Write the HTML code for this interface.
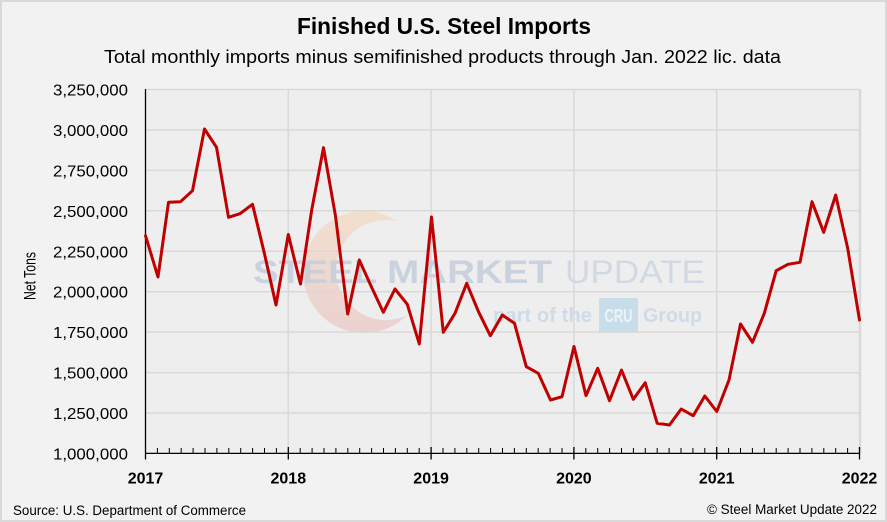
<!DOCTYPE html>
<html><head><meta charset="utf-8"><style>
html,body{margin:0;padding:0;background:#f2f2f2;}
svg{display:block;}
text{font-family:"Liberation Sans",Arial,sans-serif;}
</style></head><body>
<svg width="887" height="522" viewBox="0 0 887 522" xmlns="http://www.w3.org/2000/svg">
<defs>
<linearGradient id="cg" x1="0" y1="0" x2="0" y2="1">
<stop offset="0" stop-color="#f3dcc4"/>
<stop offset="1" stop-color="#eac7c7"/>
</linearGradient>
<mask id="cm">
<rect x="0" y="0" width="887" height="522" fill="black"/>
<circle cx="364" cy="272" r="61" fill="white"/>
<circle cx="386" cy="270" r="50" fill="black"/>
</mask>
</defs>
<rect x="0" y="0" width="887" height="522" fill="#f2f2f2"/>
<rect x="1" y="1" width="885" height="520" fill="none" stroke="#d9d9d9" stroke-width="2"/>

<!-- titles -->
<text x="297" y="34" font-size="23" font-weight="bold" fill="#000" textLength="294" lengthAdjust="spacingAndGlyphs">Finished U.S. Steel Imports</text>
<text x="104" y="63" font-size="18" fill="#000" textLength="677" lengthAdjust="spacingAndGlyphs">Total monthly imports minus semifinished products through Jan. 2022 lic. data</text>

<!-- plot area -->
<rect x="145.5" y="89.5" width="714" height="364" fill="#eeeeee"/>

<!-- watermark crescent -->
<rect x="300" y="208" width="130" height="130" fill="url(#cg)" mask="url(#cm)" opacity="0.75"/>

<!-- gridlines -->
<g stroke="#d9d9d9" stroke-width="1.5">
<line x1="145.5" y1="89.5" x2="859.5" y2="89.5"/>
<line x1="145.5" y1="129.9" x2="859.5" y2="129.9"/>
<line x1="145.5" y1="170.4" x2="859.5" y2="170.4"/>
<line x1="145.5" y1="210.8" x2="859.5" y2="210.8"/>
<line x1="145.5" y1="251.3" x2="859.5" y2="251.3"/>
<line x1="145.5" y1="291.7" x2="859.5" y2="291.7"/>
<line x1="145.5" y1="332.1" x2="859.5" y2="332.1"/>
<line x1="145.5" y1="372.6" x2="859.5" y2="372.6"/>
<line x1="145.5" y1="413" x2="859.5" y2="413"/>
<line x1="288.3" y1="89.5" x2="288.3" y2="453.4"/>
<line x1="431.1" y1="89.5" x2="431.1" y2="453.4"/>
<line x1="573.9" y1="89.5" x2="573.9" y2="453.4"/>
<line x1="716.7" y1="89.5" x2="716.7" y2="453.4"/>
</g>
<line x1="860" y1="89" x2="860" y2="453.4" stroke="#d9d9d9" stroke-width="2.5"/>

<!-- watermark text -->
<g opacity="0.85">
<text x="253" y="283" font-size="32" font-weight="bold" fill="#c4cedb" textLength="299" lengthAdjust="spacingAndGlyphs">STEEL MARKET</text>
<text x="565" y="283" font-size="32" fill="#cdd6e2" textLength="140" lengthAdjust="spacingAndGlyphs">UPDATE</text>
<text x="493" y="322" font-size="20" font-weight="bold" fill="#c9d8e8" textLength="99" lengthAdjust="spacingAndGlyphs">part of the</text>
<rect x="599" y="298" width="39" height="34" rx="2" fill="#c2dbea"/>
<text x="618.5" y="322" font-size="18" font-weight="bold" fill="#eef5fa" text-anchor="middle" textLength="28" lengthAdjust="spacingAndGlyphs">CRU</text>
<text x="643" y="322" font-size="20" font-weight="bold" fill="#c9d8e8" textLength="59" lengthAdjust="spacingAndGlyphs">Group</text>
</g>

<!-- axes -->
<line x1="145.5" y1="89" x2="145.5" y2="459.5" stroke="#000" stroke-width="1.3"/>
<line x1="145" y1="453.4" x2="860" y2="453.4" stroke="#000" stroke-width="1.3"/>
<g stroke="#000" stroke-width="1">
<path d="M157.4 453V448M169.3 453V448M181.2 453V448M193.1 453V448M205 453V448M216.9 453V448M228.8 453V448M240.7 453V448M252.6 453V448M264.5 453V448M276.4 453V448
M300.2 453V448M312.1 453V448M324 453V448M335.9 453V448M347.8 453V448M359.7 453V448M371.6 453V448M383.5 453V448M395.4 453V448M407.3 453V448M419.2 453V448
M443 453V448M454.9 453V448M466.8 453V448M478.7 453V448M490.6 453V448M502.5 453V448M514.4 453V448M526.3 453V448M538.2 453V448M550.1 453V448M562 453V448
M585.8 453V448M597.7 453V448M609.6 453V448M621.5 453V448M633.4 453V448M645.3 453V448M657.2 453V448M669.1 453V448M681 453V448M692.9 453V448M704.8 453V448
M728.6 453V448M740.5 453V448M752.4 453V448M764.3 453V448M776.2 453V448M788.1 453V448M800 453V448M811.9 453V448M823.8 453V448M835.7 453V448M847.6 453V448"/>
</g>
<g stroke="#000" stroke-width="1.3">
<path d="M288.3 447V459.5M431.1 447V459.5M573.9 447V459.5M716.7 447V459.5M859.5 447V459.5"/>
</g>

<!-- y labels -->
<g font-size="16" fill="#000">
<text x="53" y="95.5" textLength="75" lengthAdjust="spacingAndGlyphs">3,250,000</text>
<text x="53" y="135.9" textLength="75" lengthAdjust="spacingAndGlyphs">3,000,000</text>
<text x="53" y="176.4" textLength="75" lengthAdjust="spacingAndGlyphs">2,750,000</text>
<text x="53" y="216.8" textLength="75" lengthAdjust="spacingAndGlyphs">2,500,000</text>
<text x="53" y="257.3" textLength="75" lengthAdjust="spacingAndGlyphs">2,250,000</text>
<text x="53" y="297.7" textLength="75" lengthAdjust="spacingAndGlyphs">2,000,000</text>
<text x="53" y="338.1" textLength="75" lengthAdjust="spacingAndGlyphs">1,750,000</text>
<text x="53" y="378.6" textLength="75" lengthAdjust="spacingAndGlyphs">1,500,000</text>
<text x="53" y="419" textLength="75" lengthAdjust="spacingAndGlyphs">1,250,000</text>
<text x="53" y="459.4" textLength="75" lengthAdjust="spacingAndGlyphs">1,000,000</text>
</g>

<!-- x labels -->
<g font-size="16" font-weight="bold" fill="#000" text-anchor="middle">
<text x="145.5" y="483.5">2017</text>
<text x="288.3" y="483.5">2018</text>
<text x="431.1" y="483.5">2019</text>
<text x="573.9" y="483.5">2020</text>
<text x="716.7" y="483.5">2021</text>
<text x="859.5" y="483.5">2022</text>
</g>

<text transform="translate(35.5,276) rotate(-90)" font-size="16.5" fill="#000" text-anchor="middle" textLength="48" lengthAdjust="spacingAndGlyphs">Net Tons</text>

<!-- series -->
<polyline fill="none" stroke="#c00000" stroke-width="3" stroke-linejoin="round" stroke-linecap="round" points="
145.5,235.7 158,277 168.5,202.3 180.5,201.7 192.5,190.7 204.5,129 216.5,147.3 228.5,217.3 240,213.7 252.5,204.3 264.3,253 276,305
288.3,234.5 300.5,284 311.7,210 323.5,147.7 335.5,216 347.7,314 359.3,260 371.5,287 383.3,312.3 395,289 407.3,304.3 419.3,344
431.5,217 443.3,332.3 455,313.3 466.7,283.3 478.5,311.7 490.3,335.7 502.3,315 514.5,323.3 526.3,366.7 538.3,373.3 550.5,400 562,396.7
574,346.5 586,395.7 597.7,368.3 609.5,400.7 621.5,370 633.3,399.3 645.2,382.7 657.2,423.3 669.5,425 681.2,409 693.2,415.7 704.8,396
716.8,411.5 729,380 740.5,324 752.5,342.3 764.3,313.3 776.2,270.7 788,264.3 800,262.3 812,201.7 823.7,232.3 835.7,195 847.7,248.3 859.5,320"/>

<!-- footer -->
<text x="13" y="515" font-size="13.5" fill="#000" textLength="233" lengthAdjust="spacingAndGlyphs">Source: U.S. Department of Commerce</text>
<text x="707" y="514" font-size="13.5" fill="#000" textLength="170" lengthAdjust="spacingAndGlyphs">© Steel Market Update 2022</text>
</svg>
</body></html>
